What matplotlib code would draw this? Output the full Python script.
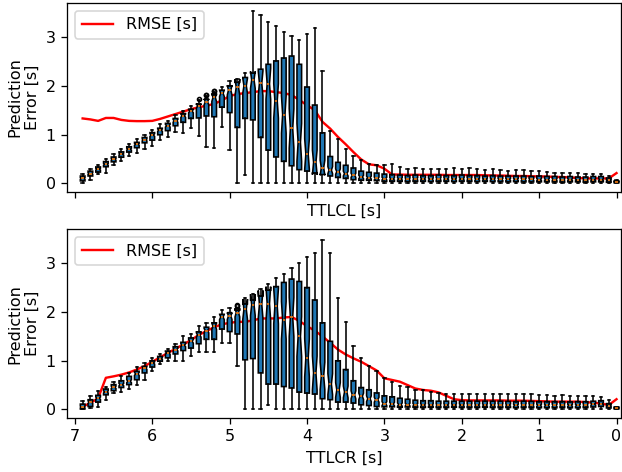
"""
Prediction error vs time to lane crossing (left / right), box plots + RMSE
"""
import numpy as np
import matplotlib.pyplot as plt

# Time to lane crossing of each box [s]
ttlc = np.round(np.arange(6.9, -0.05, -0.1), 1)

# ---- TTLCL (top) ----
lcl_q1 = [0.05, 0.15, 0.23, 0.34, 0.44, 0.535, 0.64, 0.73, 0.83, 0.885,
          0.995, 1.08, 1.18, 1.25, 1.33, 1.34, 1.38, 1.365, 1.56, 1.45,
          1.145, 1.33, 1.30, 0.94, 0.68, 0.54, 0.45, 0.36, 0.28, 0.25,
          0.21, 0.18, 0.15, 0.12, 0.10, 0.075, 0.062, 0.062, 0.055, 0.04,
          0.04, 0.04, 0.035, 0.04, 0.04, 0.035, 0.04, 0.04, 0.035, 0.04,
          0.04, 0.035, 0.04, 0.035, 0.035, 0.03, 0.035, 0.03, 0.03, 0.03,
          0.03, 0.03, 0.025, 0.03, 0.03, 0.025, 0.03, 0.03, 0.02, 0.01]
lcl_med = [0.10, 0.20, 0.29, 0.39, 0.49, 0.60, 0.70, 0.80, 0.89, 0.99,
           1.09, 1.18, 1.28, 1.385, 1.48, 1.585, 1.67, 1.76, 1.845, 1.91,
           1.97, 2.00, 2.12, 2.05, 2.04, 1.69, 1.41, 1.125, 0.84, 0.60,
           0.43, 0.32, 0.27, 0.24, 0.20, 0.165, 0.13, 0.117, 0.10, 0.096,
           0.09, 0.09, 0.085, 0.09, 0.09, 0.085, 0.09, 0.09, 0.085, 0.09,
           0.09, 0.085, 0.085, 0.085, 0.08, 0.08, 0.08, 0.08, 0.08, 0.075,
           0.075, 0.075, 0.07, 0.075, 0.07, 0.07, 0.075, 0.075, 0.06, 0.03]
lcl_q3 = [0.15, 0.25, 0.336, 0.446, 0.54, 0.645, 0.75, 0.84, 0.94, 1.04,
          1.13, 1.23, 1.33, 1.43, 1.52, 1.625, 1.73, 1.82, 1.91, 2.00,
          2.07, 2.17, 2.26, 2.34, 2.44, 2.51, 2.57, 2.61, 2.44, 1.975,
          1.605, 1.035, 0.55, 0.43, 0.37, 0.315, 0.25, 0.226, 0.21, 0.19,
          0.18, 0.17, 0.16, 0.17, 0.16, 0.16, 0.17, 0.16, 0.16, 0.17,
          0.16, 0.16, 0.15, 0.16, 0.15, 0.15, 0.15, 0.15, 0.14, 0.15,
          0.14, 0.14, 0.13, 0.14, 0.13, 0.13, 0.14, 0.14, 0.11, 0.05]
lcl_hi = [0.185, 0.30, 0.37, 0.50, 0.60, 0.70, 0.80, 0.90, 0.99, 1.10,
          1.21, 1.28, 1.40, 1.49, 1.58, 1.71, 1.79, 1.87, 1.98, 2.10,
          2.14, 2.27, 3.525, 3.45, 3.31, 3.23, 3.11, 3.01, 2.94, 3.06,
          3.19, 2.30, 1.08, 0.90, 0.71, 0.57, 0.47, 0.405, 0.38, 0.37,
          0.40, 0.34, 0.30, 0.32, 0.30, 0.29, 0.30, 0.29, 0.32, 0.30,
          0.315, 0.30, 0.28, 0.29, 0.27, 0.255, 0.27, 0.27, 0.25, 0.25,
          0.235, 0.22, 0.22, 0.21, 0.21, 0.19, 0.20, 0.20, 0.15, 0.06]
lcl_lo = [0.0, 0.06, 0.185, 0.22, 0.37, 0.45, 0.555, 0.62, 0.71, 0.775,
          0.885, 0.94, 1.06, 1.04, 1.14, 0.97, 0.75, 0.73, 1.15, 0.68,
          0.0, 0.165] + [0.0] * 48
lcl_fliers = {5.4: [1.73], 5.3: [1.81, 1.82], 5.2: [1.89, 1.90]}
lcl_rmse = [1.33, 1.31, 1.28, 1.34, 1.34, 1.30, 1.28, 1.275, 1.275, 1.28,
            1.32, 1.37, 1.42, 1.47, 1.52, 1.56, 1.59, 1.63, 1.70, 1.79,
            1.83, 1.85, 1.87, 1.89, 1.89, 1.87, 1.85, 1.81, 1.71, 1.60,
            1.50, 1.26, 1.12, 0.95, 0.80, 0.64, 0.49, 0.39, 0.37, 0.30,
            0.18, 0.18, 0.175, 0.175, 0.175, 0.175, 0.175, 0.17, 0.17, 0.17,
            0.17, 0.17, 0.165, 0.16, 0.16, 0.155, 0.15, 0.15, 0.145, 0.14,
            0.14, 0.13, 0.13, 0.12, 0.11, 0.10, 0.10, 0.10, 0.10, 0.21]

# ---- TTLCR (bottom) ----
lcr_q1 = [0.01, 0.06, 0.15, 0.30, 0.385, 0.45, 0.51, 0.61, 0.75, 0.87,
          0.99, 1.06, 1.14, 1.21, 1.26, 1.35, 1.44, 1.44, 1.65, 1.60,
          1.55, 1.02, 1.045, 0.75, 0.52, 0.52, 0.47, 0.44, 0.355, 0.335,
          0.315, 0.22, 0.20, 0.15, 0.15, 0.13, 0.095, 0.08, 0.06, 0.054,
          0.054, 0.045, 0.05, 0.045, 0.04, 0.045, 0.04, 0.04, 0.045, 0.04,
          0.04, 0.04, 0.045, 0.04, 0.04, 0.04, 0.035, 0.04, 0.04, 0.035,
          0.035, 0.035, 0.04, 0.035, 0.035, 0.04, 0.05, 0.06, 0.03, 0.01]
lcr_med = [0.05, 0.15, 0.23, 0.36, 0.455, 0.51, 0.58, 0.73, 0.85, 0.955,
           1.045, 1.16, 1.23, 1.32, 1.40, 1.53, 1.62, 1.71, 1.90, 1.92,
           1.99, 2.06, 2.15, 2.16, 2.175, 2.12, 1.83, 1.90, 1.50, 1.06,
           0.75, 0.69, 0.52, 0.40, 0.36, 0.30, 0.27, 0.22, 0.20, 0.12,
           0.11, 0.10, 0.10, 0.095, 0.09, 0.09, 0.09, 0.09, 0.09, 0.09,
           0.09, 0.09, 0.09, 0.09, 0.09, 0.09, 0.085, 0.09, 0.09, 0.085,
           0.085, 0.085, 0.09, 0.085, 0.085, 0.09, 0.11, 0.12, 0.08, 0.03]
lcr_q3 = [0.11, 0.20, 0.29, 0.42, 0.51, 0.59, 0.68, 0.785, 0.885, 1.0,
          1.09, 1.20, 1.29, 1.38, 1.47, 1.595, 1.69, 1.78, 1.955, 1.99,
          2.04, 2.17, 2.25, 2.33, 2.45, 2.525, 2.61, 2.68, 2.63, 2.505,
          2.25, 1.78, 1.40, 1.00, 0.82, 0.59, 0.45, 0.405, 0.34, 0.28,
          0.26, 0.23, 0.21, 0.19, 0.18, 0.18, 0.17, 0.17, 0.17, 0.17,
          0.17, 0.17, 0.17, 0.17, 0.17, 0.165, 0.16, 0.17, 0.165, 0.16,
          0.16, 0.16, 0.16, 0.155, 0.16, 0.16, 0.17, 0.18, 0.12, 0.05]
lcr_hi = [0.18, 0.27, 0.37, 0.47, 0.56, 0.68, 0.75, 0.87, 0.96, 1.06,
          1.14, 1.25, 1.335, 1.51, 1.56, 1.71, 1.78, 1.90, 2.05, 2.09,
          2.04, 2.30, 2.37, 2.48, 2.575, 2.71, 2.78, 2.905, 3.01, 3.14,
          3.21, 3.48, 3.21, 2.28, 1.80, 1.30, 1.05, 0.90, 0.80, 0.65,
          0.57, 0.48, 0.46, 0.40, 0.39, 0.36, 0.34, 0.32, 0.32, 0.32,
          0.32, 0.31, 0.32, 0.32, 0.32, 0.31, 0.31, 0.32, 0.31, 0.30,
          0.29, 0.28, 0.29, 0.28, 0.28, 0.28, 0.27, 0.25, 0.20, 0.06]
lcr_lo = [0.0, 0.03, 0.06, 0.20, 0.34, 0.36, 0.41, 0.51, 0.61, 0.78,
          0.94, 1.0, 0.99, 1.0, 1.09, 1.18, 1.18, 1.18, 1.37, 1.37,
          0.89, 0.0, 0.0, 0.0, 0.095] + [0.0] * 45
lcr_fliers = {4.9: [2.13, 2.15]}
lcr_rmse = [0.06, 0.13, 0.23, 0.65, 0.68, 0.715, 0.76, 0.82, 0.89, 0.98,
            1.07, 1.16, 1.245, 1.335, 1.425, 1.53, 1.61, 1.69, 1.75, 1.78,
            1.80, 1.80, 1.83, 1.87, 1.87, 1.87, 1.89, 1.90, 1.82, 1.71,
            1.62, 1.50, 1.37, 1.23, 1.13, 1.05, 0.98, 0.89, 0.80, 0.64,
            0.605, 0.57, 0.50, 0.43, 0.40, 0.385, 0.35, 0.28, 0.21, 0.19,
            0.185, 0.185, 0.185, 0.185, 0.185, 0.18, 0.18, 0.18, 0.175, 0.17,
            0.165, 0.16, 0.16, 0.16, 0.16, 0.15, 0.14, 0.12, 0.09, 0.21]


# Build the stats dicts for bxp (notch half width as a share of the IQR)
def make_stats(q1, med, q3, lo, hi, fliers, k=0.18):
    stats = []
    for i, t in enumerate(ttlc):
        iqr = q3[i] - q1[i]
        stats.append(dict(med=med[i], q1=q1[i], q3=q3[i],
                          whislo=lo[i], whishi=hi[i],
                          cilo=med[i] - k * iqr, cihi=med[i] + k * iqr,
                          fliers=fliers.get(t, [])))
    return stats


# slightly higher dpi -> bigger text and lines, same pixel size
fig = plt.figure(figsize=(622 / 115, 472 / 115), dpi=115)
ax1 = fig.add_axes([0.108, 0.593, 0.89, 0.401])
ax2 = fig.add_axes([0.108, 0.114, 0.89, 0.400], sharex=ax1)

panels = [(ax1, 'TTLCL [s]', lcl_q1, lcl_med, lcl_q3, lcl_lo, lcl_hi, lcl_fliers, lcl_rmse),
          (ax2, 'TTLCR [s]', lcr_q1, lcr_med, lcr_q3, lcr_lo, lcr_hi, lcr_fliers, lcr_rmse)]

for ax, xlab, q1, med, q3, lo, hi, fl, rmse in panels:
    ax.plot(ttlc, rmse, color='red', lw=1.5, label='RMSE [s]', zorder=1)
    ax.bxp(make_stats(q1, med, q3, lo, hi, fl), positions=ttlc, widths=0.06,
           patch_artist=True, shownotches=True, manage_ticks=False,
           boxprops=dict(facecolor='C0', edgecolor='black'),
           medianprops=dict(color='C1'),
           flierprops=dict(marker='o', markersize=2.5, markerfacecolor='none'))
    ax.set_xlabel(xlab)
    ax.set_ylabel('Prediction\nError [s]')
    ax.set_yticks([0, 1, 2, 3])
    ax.set_ylim(-0.18, 3.7)
    ax.legend(loc='upper left')

ax1.set_xticks(range(8))
ax1.set_xlim(7.1, -0.055)
ax1.tick_params(labelbottom=False)

fig.savefig('out.png')
